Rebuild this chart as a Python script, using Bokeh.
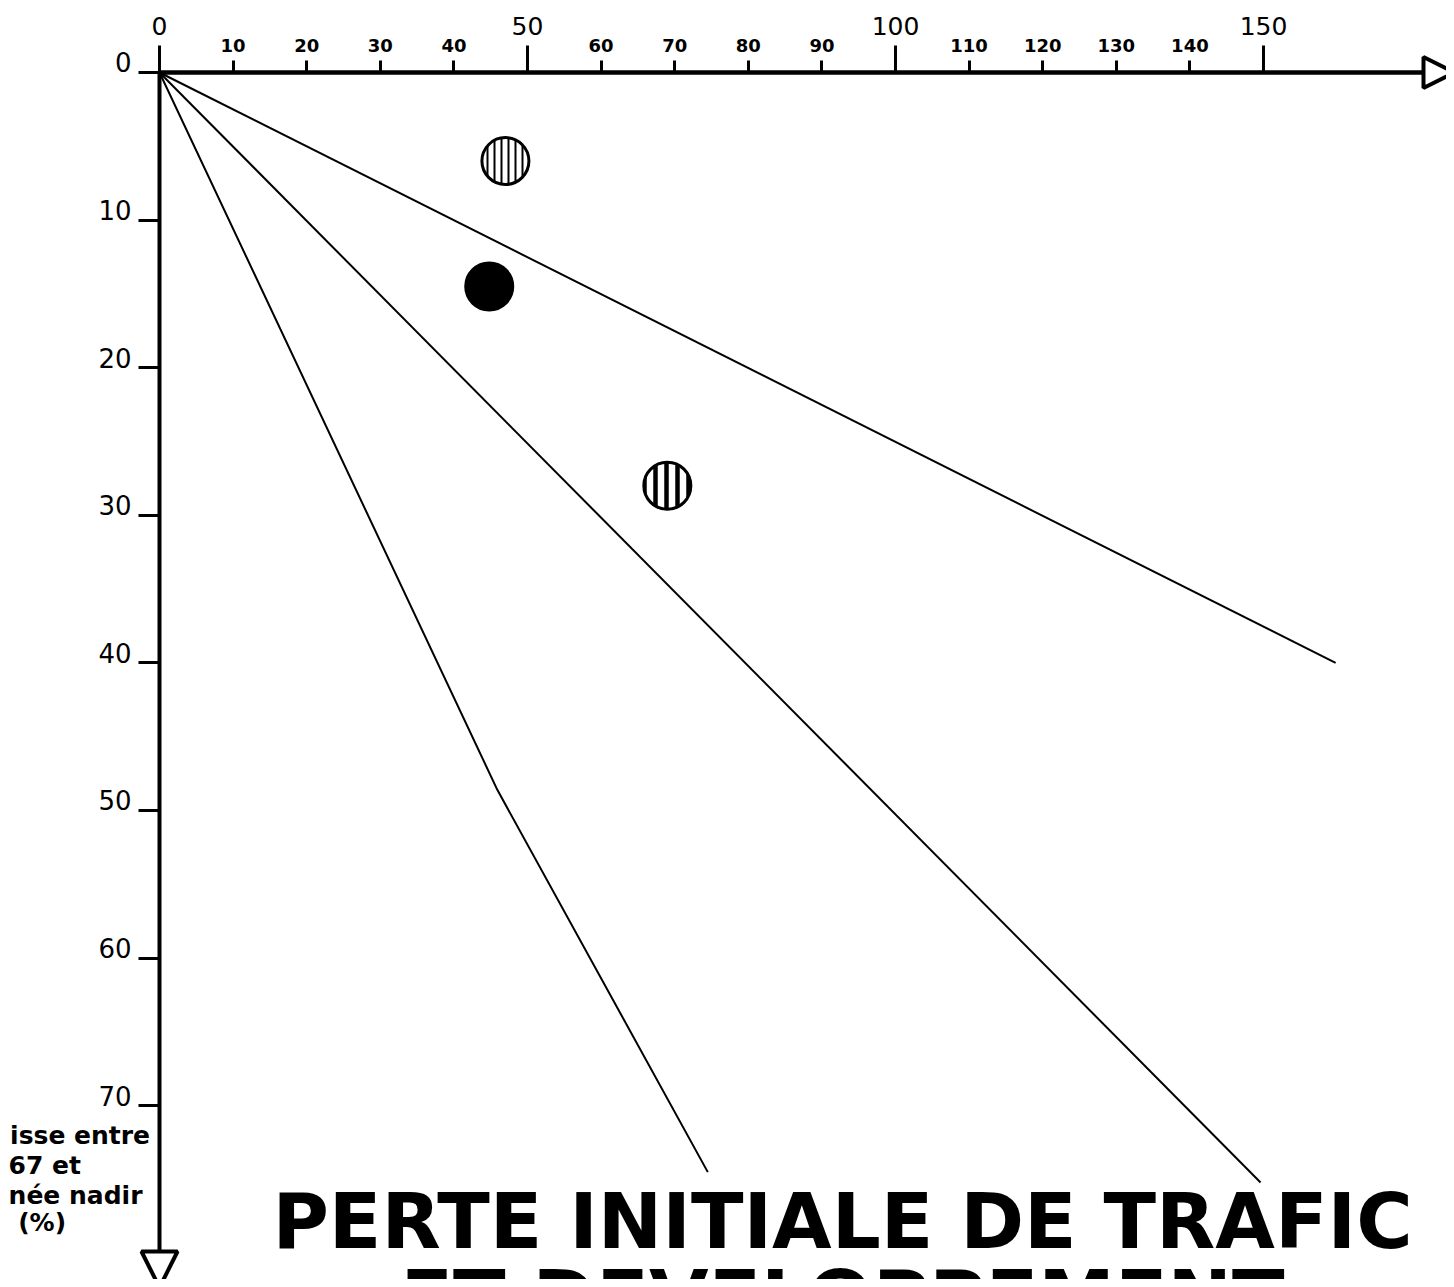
from bokeh.plotting import figure
from bokeh.models import Range1d, LinearAxis, FixedTicker, Arrow, NormalHead, Label
from bokeh.embed import file_html
from bokeh.resources import INLINE

# ---------------- data ----------------
x_ticks_small = [10, 20, 30, 40, 60, 70, 80, 90, 110, 120, 130, 140]
x_ticks_large = [0, 50, 100, 150]
y_ticks = [0, 10, 20, 30, 40, 50, 60, 70]

ray_x = [[0, 149.6], [0, 159.8]]
ray_y = [[0, 75.2], [0, 40.0]]
ray3_x = [0, 45.9, 74.5]
ray3_y = [0, 48.6, 74.5]

point_x = [47.0, 44.8, 69.0]
point_y = [6.0, 14.5, 28.0]

title_lines = ["PERTE INITIALE DE TRAFIC", "ET DEVELOPPEMENT"]
note_lines = ["isse entre", "67 et", "née nadir", "(%)"]

# ---------------- layout ----------------
W, H = 1446, 1279
OX, OY = 159, 72          # pixel position of the origin
PX_X, PX_Y = 7.36, 14.76  # pixels per unit

p = figure(width=W, height=H,
           x_range=Range1d(-OX / PX_X, (W - OX) / PX_X),
           y_range=Range1d((H - OY) / PX_Y, -OY / PX_Y),
           x_axis_location=None, y_axis_location=None, toolbar_location=None,
           output_backend="svg", min_border=0)
p.outline_line_color = None
p.background_fill_color = "white"
p.border_fill_color = "white"
p.xgrid.visible = False
p.ygrid.visible = False

x_arrow_base = 171.7
y_arrow_base = 79.8

# top axis, small labelled ticks
top_small = LinearAxis(ticker=FixedTicker(ticks=x_ticks_small, minor_ticks=[]),
                       bounds=(0, x_arrow_base), fixed_location=0)
top_small.axis_line_width = 4
top_small.axis_line_color = "black"
top_small.major_tick_out = 12
top_small.major_tick_in = 0
top_small.major_tick_line_width = 3
top_small.major_label_standoff = 9
top_small.major_label_text_font = "DejaVu Sans"
top_small.major_label_text_font_style = "bold"
top_small.major_label_text_font_size = "18px"
top_small.major_label_text_color = "black"
p.add_layout(top_small, "above")

# top axis, large ticks 0 / 50 / 100 / 150
top_large = LinearAxis(ticker=FixedTicker(ticks=x_ticks_large, minor_ticks=[]),
                       bounds=(0, x_arrow_base), fixed_location=0)
top_large.axis_line_width = 4
top_large.axis_line_color = "black"
top_large.major_tick_out = 27
top_large.major_tick_in = 0
top_large.major_tick_line_width = 3
top_large.major_label_standoff = 11
top_large.major_label_text_font = "DejaVu Sans"
top_large.major_label_text_font_size = "25px"
top_large.major_label_text_color = "black"
p.add_layout(top_large, "above")

# left axis: line and ticks
left_axis = LinearAxis(ticker=FixedTicker(ticks=y_ticks, minor_ticks=[]),
                       bounds=(0, y_arrow_base), fixed_location=0)
left_axis.axis_line_width = 4
left_axis.axis_line_color = "black"
left_axis.major_tick_out = 21
left_axis.major_tick_in = 0
left_axis.major_tick_line_width = 3
left_axis.major_label_standoff = 0
left_axis.major_label_overrides = {t: "" for t in y_ticks}
p.add_layout(left_axis, "left")

# left axis labels, sitting just above each tick
Y_SHIFT = 0.68
left_labels = LinearAxis(ticker=FixedTicker(ticks=[t - Y_SHIFT for t in y_ticks], minor_ticks=[]),
                         fixed_location=-21 / PX_X)
left_labels.axis_line_color = None
left_labels.major_tick_line_color = None
left_labels.minor_tick_line_color = None
left_labels.major_tick_out = 0
left_labels.major_tick_in = 0
left_labels.major_label_standoff = 7
left_labels.major_label_overrides = {t - Y_SHIFT: str(t) for t in y_ticks}
left_labels.major_label_text_font = "DejaVu Sans"
left_labels.major_label_text_font_size = "26px"
left_labels.major_label_text_color = "black"
p.add_layout(left_labels, "left")

# arrow heads
p.add_layout(Arrow(end=NormalHead(size=31, line_width=4, line_color="black", fill_color="white"),
                   x_start=x_arrow_base, y_start=0, x_end=(1454 - OX) / PX_X, y_end=0,
                   line_width=4, line_color="black"))
p.add_layout(Arrow(end=NormalHead(size=36, line_width=4, line_color="black", fill_color="white"),
                   x_start=0, y_start=y_arrow_base, x_end=0, y_end=(1287 - OY) / PX_Y,
                   line_width=4, line_color="black"))

# rays
p.multi_line(xs=ray_x, ys=ray_y, line_color="black", line_width=2)
p.line(ray3_x, ray3_y, line_color="black", line_width=2)

# points
point_styles = [
    dict(fill_color="white", hatch_pattern="vertical_line", hatch_scale=7, hatch_weight=2.0),
    dict(fill_color="black"),
    dict(fill_color="white", hatch_pattern="vertical_line", hatch_scale=11, hatch_weight=4.5),
]
for xv, yv, st in zip(point_x, point_y, point_styles):
    p.scatter([xv], [yv], marker="circle", size=47, line_color="black", line_width=3,
              hatch_color="black", **st)

# notes (cut at the left edge in the original)
note_x = [-20.3, -20.5, -20.5, -19.2]
note_y = [72.02, 74.05, 76.08, 77.91]
for t, xv, yv in zip(note_lines, note_x, note_y):
    p.add_layout(Label(x=xv, y=yv, text=t, text_align="left", text_baseline="alphabetic",
                       text_color="black", text_font="DejaVu Sans", text_font_style="bold",
                       text_font_size="25px"))

# title
title_y = [77.87, 83.08]
for t, yv in zip(title_lines, title_y):
    p.add_layout(Label(x=92.8, y=yv, text=t, text_align="center", text_baseline="alphabetic",
                       text_color="black", text_font="DejaVu Sans", text_font_style="bold",
                       text_font_size="77px"))

open("out.html", "w").write(file_html(p, INLINE))
